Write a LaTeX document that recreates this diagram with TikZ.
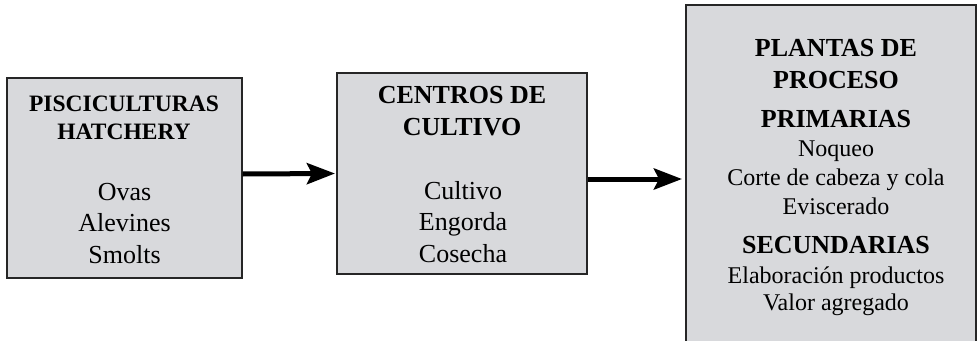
\documentclass[tikz,border=0pt]{standalone}
\usepackage{fontspec}
\setmainfont{Liberation Serif}
\usetikzlibrary{arrows.meta,positioning}
\definecolor{boxgray}{RGB}{216,217,220}

\begin{document}
\begin{tikzpicture}[x=1pt,y=-1pt,
  box/.style={draw=black!85,line width=1.1pt,fill=boxgray},
  head/.style={anchor=base,inner sep=0pt,align=center,font=\bfseries\fontsize{26}{32}\selectfont},
  item/.style={anchor=base,inner sep=0pt,align=center,font=\fontsize{26}{31.5}\selectfont},
  flow/.style={-{Stealth[length=28pt,width=21pt,inset=5pt]},line width=5pt}]

\useasboundingbox (0,0) rectangle (979,340);
\clip (0,0) rectangle (979,340);

% boxes
\node[box,minimum width=235pt,minimum height=200pt] (hatch) at (124.5,178) {};
\node[box,minimum width=250pt,minimum height=201pt] (cult) at (462,173.5) {};
\node[box,minimum width=290pt,minimum height=355pt] (plant) at (831,182.5) {};

% texts (base = last line)
\node[head,font=\bfseries\fontsize{23.5}{28}\selectfont] (hatchT) at (124,139) {PISCICULTURAS\\HATCHERY};
\node[item] (hatchL) at (124.5,263) {Ovas\\Alevines\\Smolts};

\node[head] (cultT) at (462,135) {CENTROS DE\\CULTIVO};
\node[item] (cultL) at (463,262) {Cultivo\\Engorda\\Cosecha};

\node[head] (plantT) at (836,88) {PLANTAS DE\\PROCESO};
\node[head] (prim) at (836,127) {PRIMARIAS};
\node[item,font=\fontsize{24}{29}\selectfont] (primL) at (836,214) {Noqueo\\Corte de cabeza y cola\\Eviscerado};
\node[head] (sec) at (836,253) {SECUNDARIAS};
\node[item,font=\fontsize{24}{27}\selectfont] (secL) at (836,310) {Elaboración productos\\Valor agregado};

% arrows
\draw[flow,shorten >=1.5pt] ([yshift=4pt]hatch.east) -- (cult.west);
\draw[flow,shorten >=3.5pt] ([yshift=-5.5pt]cult.east) -- ([yshift=3.5pt]plant.west);

\end{tikzpicture}
\end{document}
